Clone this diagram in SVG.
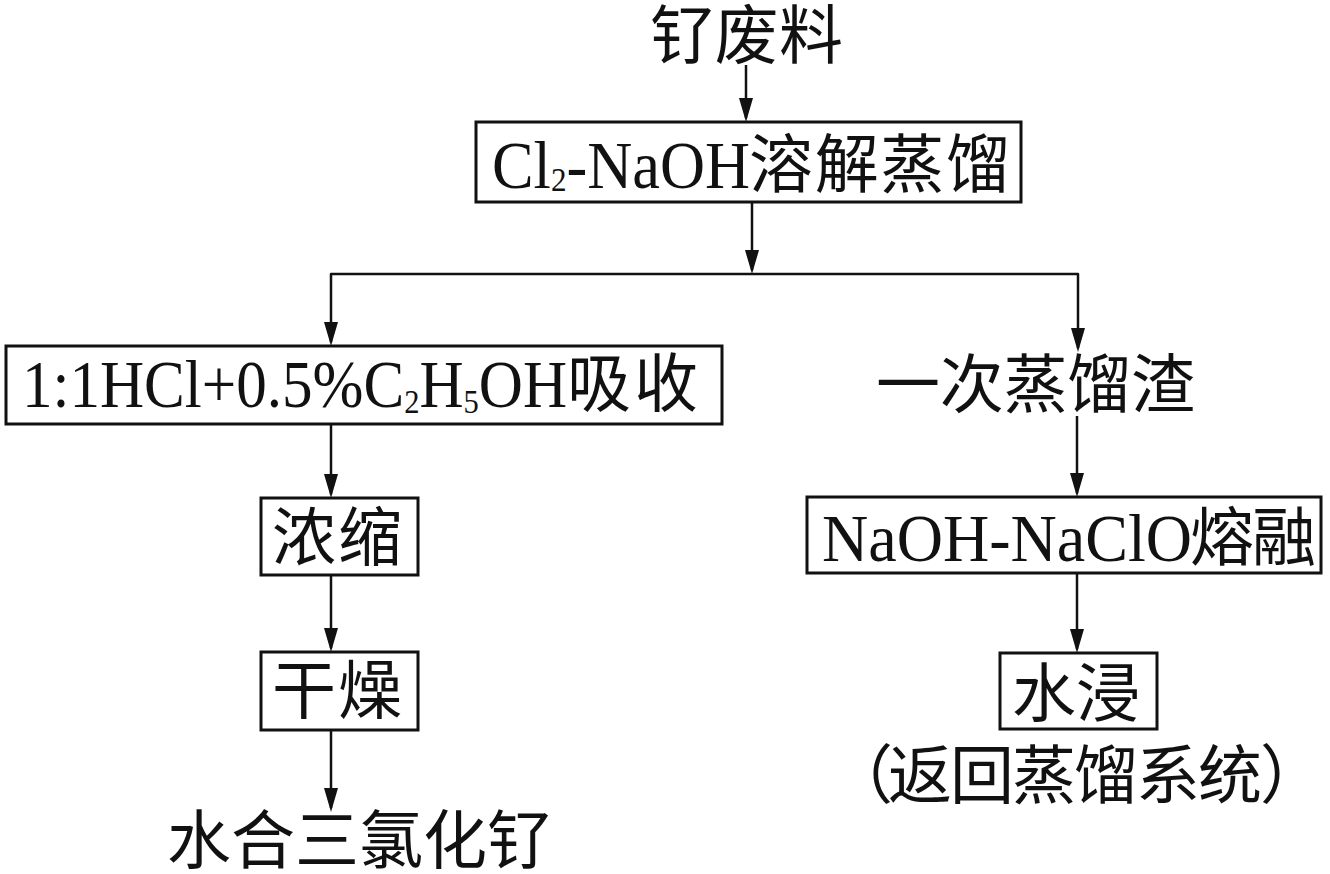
<svg xmlns="http://www.w3.org/2000/svg" width="1330" height="874" viewBox="0 0 1330 874">
<style>
.bg{fill:#fff}
.box{fill:none;stroke:#111;stroke-width:3}
.ln{fill:none;stroke:#111;stroke-width:2.5;stroke-linejoin:round}
.lat{font-family:"Liberation Serif","Times New Roman",serif;font-size:68px;fill:#111}
.sub{font-size:34px}
.cjk{font-family:"Liberation Serif","Noto Sans CJK SC",sans-serif;font-size:64px;fill:#111}
</style>
<defs>
<marker id="arr" markerUnits="userSpaceOnUse" viewBox="0 0 24 14" refX="20" refY="7" markerWidth="24" markerHeight="14" orient="auto-start-reverse">
<path d="M0,0 L24,7 L0,14 Z" fill="#111"/>
</marker>
</defs>
<rect class="bg" x="0" y="0" width="1330" height="874"/>

<g id="connectors">
<path class="ln" d="M746,65 V118" marker-end="url(#arr)"/>
<path class="ln" d="M752,202 V270" marker-end="url(#arr)"/>
<path class="ln" d="M331,342 V274 H1078 V348" marker-start="url(#arr)" marker-end="url(#arr)"/>
<path class="ln" d="M331,424 V494" marker-end="url(#arr)"/>
<path class="ln" d="M331,575 V648" marker-end="url(#arr)"/>
<path class="ln" d="M331,730 V808" marker-end="url(#arr)"/>
<path class="ln" d="M1077,416 V493" marker-end="url(#arr)"/>
<path class="ln" d="M1077,573 V649" marker-end="url(#arr)"/>
</g>

<g id="n-waste">
<text class="cjk" x="650" y="58" textLength="193">钌废料</text>
</g>

<g id="n-dissolve">
<rect class="box" x="476" y="122" width="545" height="80"/>
<text class="lat" x="492" y="188" textLength="258" lengthAdjust="spacingAndGlyphs">Cl<tspan class="sub" dy="3">2</tspan><tspan dy="-3">-NaOH</tspan></text>
<text class="cjk" x="749" y="187" textLength="261">溶解蒸馏</text>
</g>

<g id="n-absorb">
<rect class="box" x="6" y="346" width="716" height="78"/>
<text class="lat" x="22" y="407" textLength="545" lengthAdjust="spacingAndGlyphs">1:1HCl+0.5%C<tspan class="sub" dy="6">2</tspan><tspan dy="-6">H</tspan><tspan class="sub" dy="6">5</tspan><tspan dy="-6">OH</tspan></text>
<text class="cjk" x="567" y="406" textLength="131">吸收</text>
</g>

<g id="n-concentrate">
<rect class="box" x="261" y="498" width="157" height="77"/>
<text class="cjk" x="272" y="560" textLength="130">浓缩</text>
</g>

<g id="n-dry">
<rect class="box" x="261" y="652" width="157" height="78"/>
<text class="cjk" x="272" y="713" textLength="130">干燥</text>
</g>

<g id="n-product">
<text class="cjk" x="167" y="863" textLength="384">水合三氯化钌</text>
</g>

<g id="n-residue">
<text class="cjk" x="876" y="407" textLength="319">一次蒸馏渣</text>
</g>

<g id="n-fusion">
<rect class="box" x="807" y="497" width="514" height="76"/>
<text class="lat" x="822" y="561" textLength="370" lengthAdjust="spacingAndGlyphs">NaOH-NaClO</text>
<text class="cjk" x="1190" y="560" textLength="126">熔融</text>
</g>

<g id="n-leach">
<rect class="box" x="1000" y="653" width="157" height="76"/>
<text class="cjk" x="1012" y="716" textLength="128">水浸</text>
<text class="cjk" x="829 888 950 1012 1074 1136 1198 1260" y="798">（返回蒸馏系统）</text>
</g>
</svg>
